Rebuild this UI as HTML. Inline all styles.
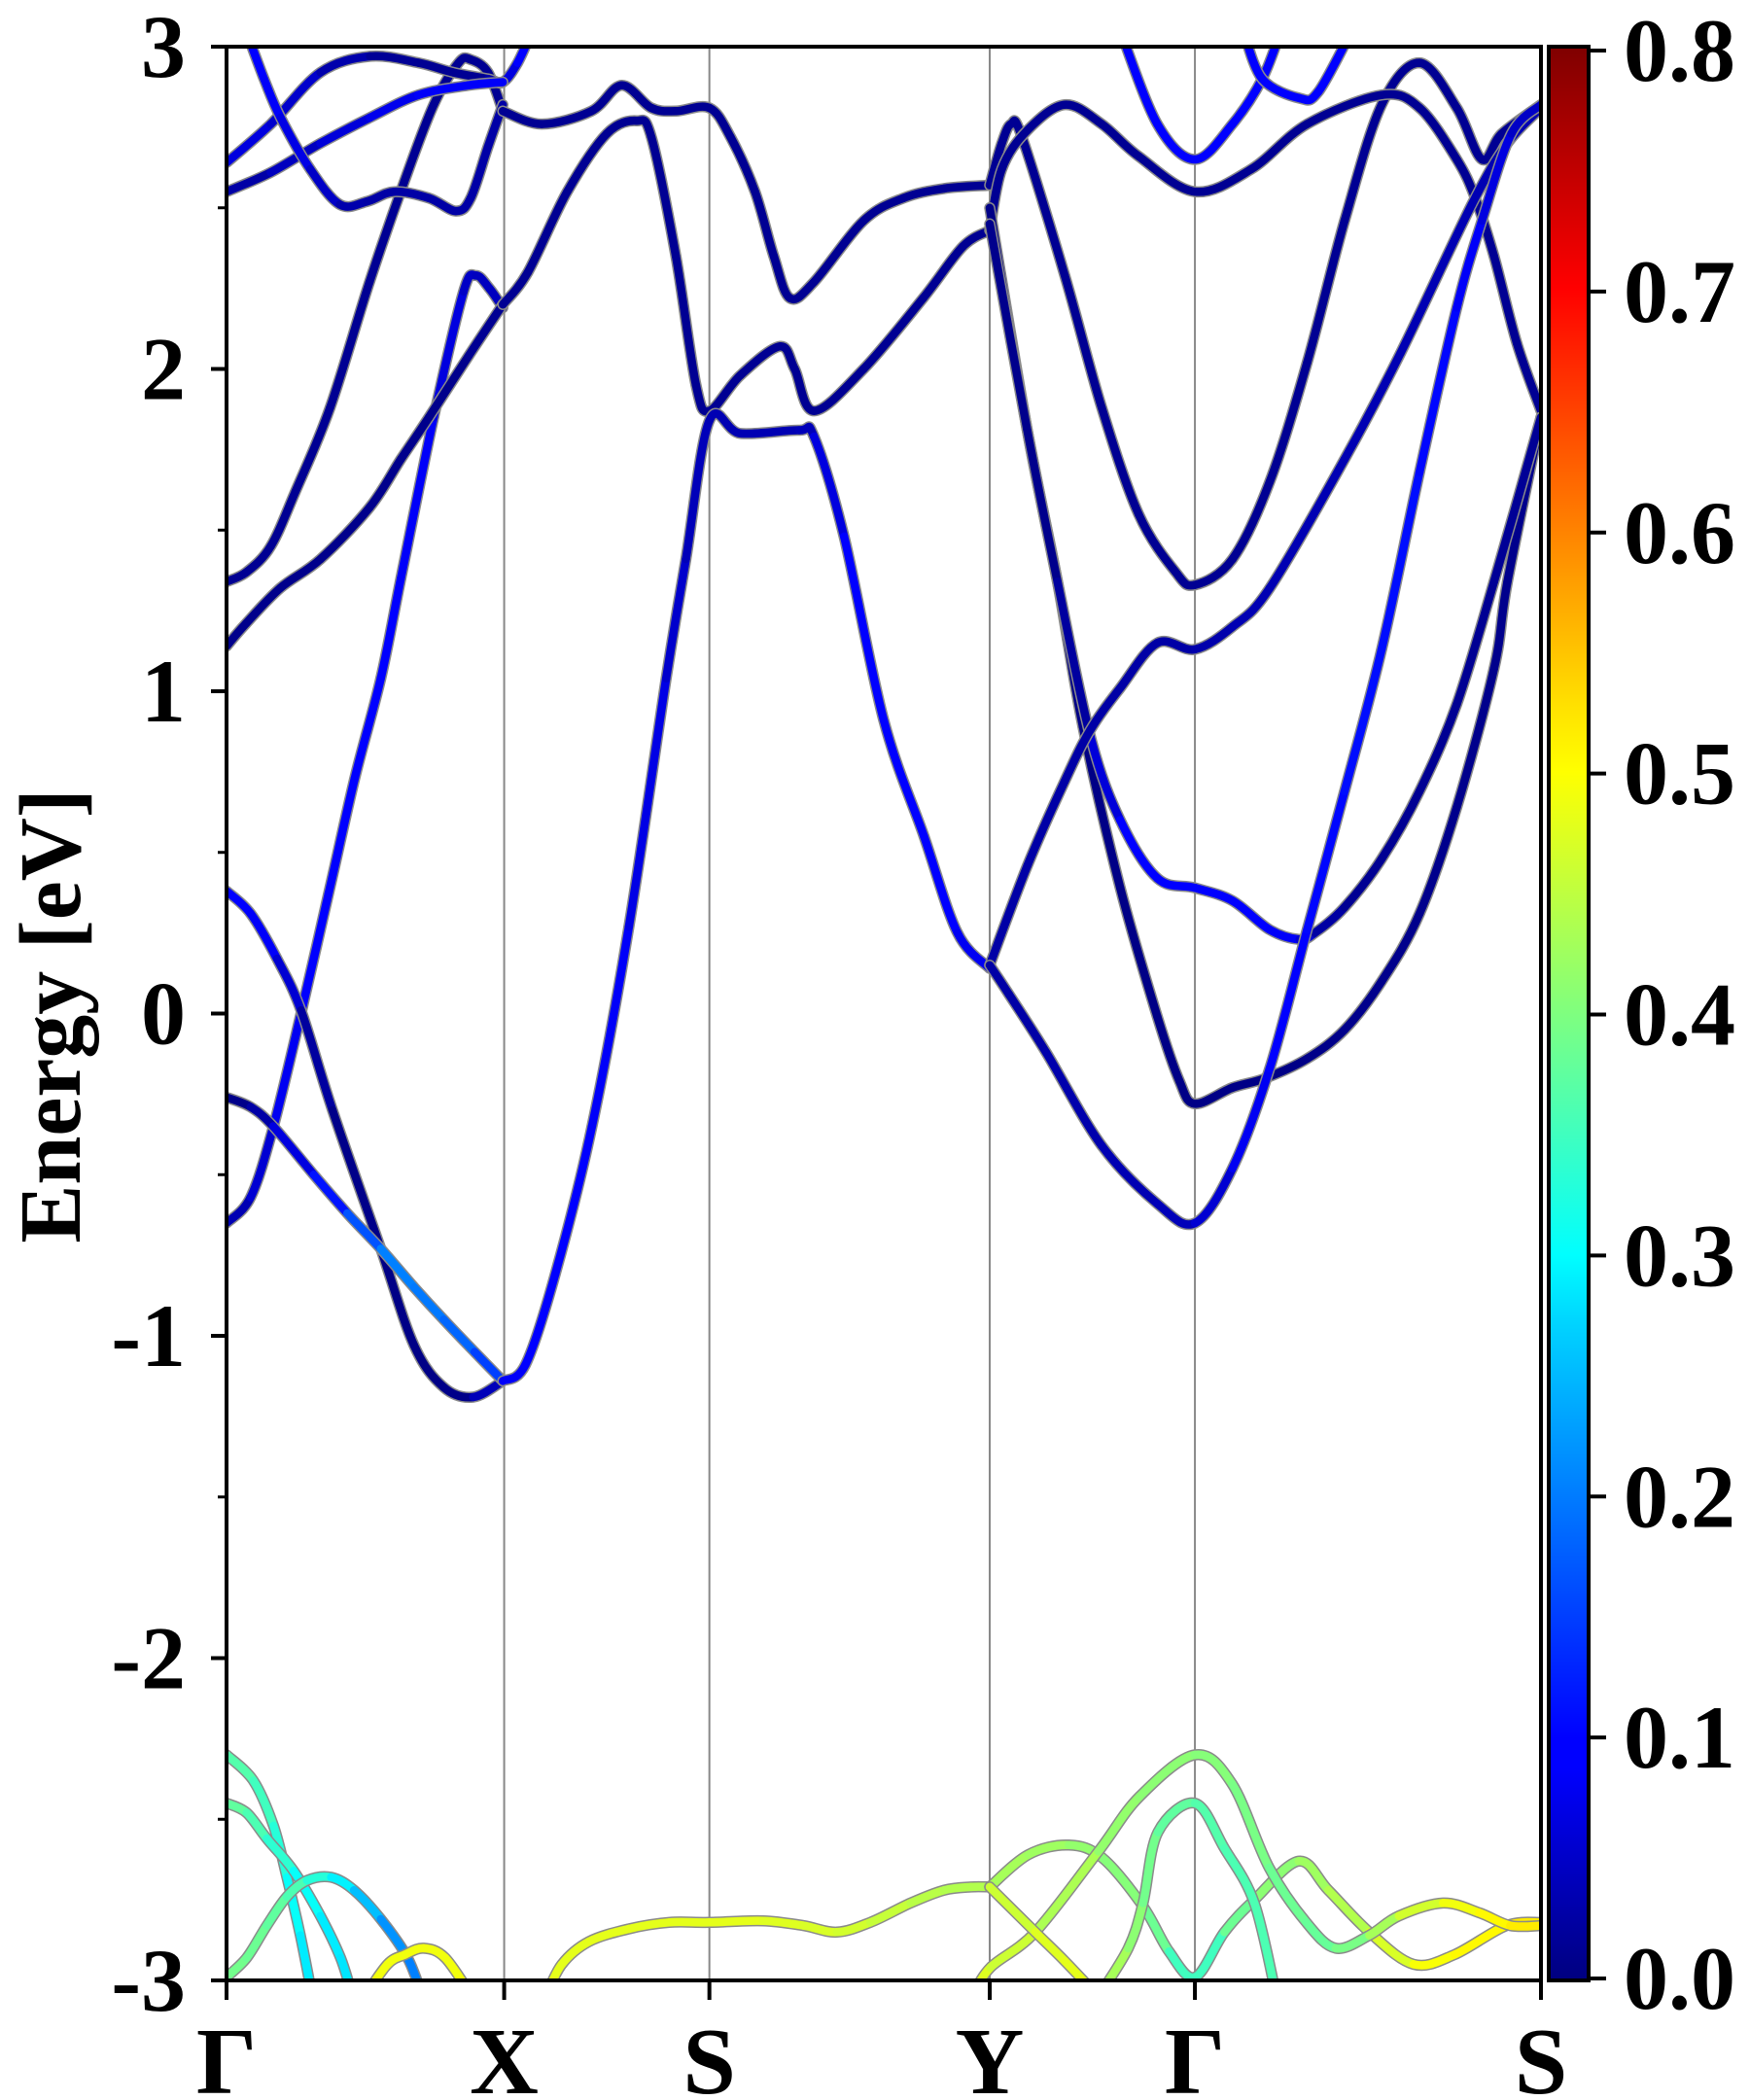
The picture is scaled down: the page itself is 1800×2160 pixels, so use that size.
<!DOCTYPE html>
<html><head><meta charset="utf-8"><style>
html,body{margin:0;padding:0;background:#fff;}
svg{display:block;}
text{font-family:"Liberation Serif","DejaVu Serif",serif;font-weight:bold;fill:#000;}
</style></head><body>
<svg id="chart" xmlns="http://www.w3.org/2000/svg" width="1800" height="2160" viewBox="0 0 1800 2160">
<defs>
<clipPath id="plotclip"><rect x="233" y="48" width="1352" height="1989"/></clipPath>
<linearGradient id="jetgrad" x1="0" y1="1" x2="0" y2="0">
<stop offset="0" stop-color="#00007f"/><stop offset="0.11" stop-color="#0000ff"/><stop offset="0.125" stop-color="#0000ff"/>
<stop offset="0.34" stop-color="#00d4ff"/><stop offset="0.375" stop-color="#00ffff"/><stop offset="0.5" stop-color="#7fff7f"/>
<stop offset="0.625" stop-color="#ffff00"/><stop offset="0.66" stop-color="#ffe000"/><stop offset="0.875" stop-color="#ff0000"/><stop offset="1" stop-color="#7f0000"/>
</linearGradient>
</defs>
<g id="grid"></g>
<g id="bands" clip-path="url(#plotclip)"></g>
<rect x="233" y="48" width="1352" height="1989" fill="none" stroke="#000" stroke-width="4"/>
<g id="axes"></g>
<text x="82" y="1045" font-size="90" text-anchor="middle" transform="rotate(-90 82 1045)">Energy [eV]</text>
<rect x="1593" y="48" width="41" height="1989" fill="url(#jetgrad)" stroke="#000" stroke-width="4"/>
<g id="cbaxis"></g>
</svg>
<script>
// k-path ticks (k-distance units) and labels
const kTicks = [0, 207, 360, 569, 722, 980];
const kLabels = ["Γ", "X", "S", "Y", "Γ", "S"];
const eTicks = [-3, -2, -1, 0, 1, 2, 3];
const eMinor = [-2.5, -1.5, -0.5, 0.5, 1.5, 2.5];
const cbTicks = [0, 0.1, 0.2, 0.3, 0.4, 0.5, 0.6, 0.7, 0.8];
const cbLabels = ["0.0","0.1","0.2","0.3","0.4","0.5","0.6","0.7","0.8"];

// bands: k = k-distance, e = energy (eV), w = projected weight
const bandK = [
 [0,18,35,55.5,76,95.6,115,130,154.5,176.7,185.9,196,206],
 [0,18,37.6,55.5,79,115,139.8,162,184,206],
 [0,18,34.8,65,90,115,140,162,185,206],
 [0,14.5,40,70,106.6,130,150.9,180.4,206],
 [0,15,33,51.4,77.2,106.6,132.4,154.5,173,182,195,206],
 [0,33,70,107,143,169,195,206,217,228],
 [0,33,70,107,143,180,206],
 [14.5,28,40.3,62.4,84.5,105,125,150.9,171,182,195,206],
 [206,235,272,294.6,316.7,335,360,375.7,394,408,420,438,475,504.6,535,569],
 [206,224.6,254,283.5,305.6,316.7,335,350,360,383,412.5,423.6,438,475,519.4,549,569],
 [206,222.8,245,272.5,300,327.8,342.5,360,383,427,438,460.4,490,520,545,569],
 [569,578,585,593,625,652.5,680,707.5,722,750,777.8,805.7,833.6,861.2,889.5,917.2,936,950.7,980],
 [569,578,597,625,652.5,680,722,764,805.7,861.2,889.5,917.2,931,945,962,980],
 [569,597,619.5,638.5,666.3,694,710.5,722,750,775,805.7,833.6,861.2,889.5,917.2,945,955,980],
 [569,597,619.5,644,666.3,694,722,750,777.8,800,811.3,833.6,861.2,889.5,917.2,945,980],
 [569,597.2,624.8,644,666.3,694,722,750,777.8,833.6,875.4,928.4,955,980],
 [569,583.3,611,652.5,694,722,750,777.8,805.7,833.6,861.2,889.5,917.2,936,958,980],
 [666.3,694,722,750,772.2,786.2],
 [758,772.2,800,814,839],
 [0,20,35,45,55,64],
 [0,15,30,50,70,85,94],
 [0,15,30,45,60,78,95,115,135,146],
 [103,120,133,147,163,183],
 [238,250,270,300,330,360,400,430,455,480,510,535,555,569],
 [569,597.7,628,653,683.3,702.7,722,744,766.3,799.4,821.5,852,885,915.5,954.2,980],
 [556,569.5,603,650,680.6,722,749.7,777.3,805,827,852,874,907,934,957,980],
 [650,672.3,683.3,694.4,722,744,766.3,782.8],
 [569,603,625,650]
];
const bandE = [
 [-0.65,-0.57,-0.35,0.0,0.37,0.73,1.04,1.35,1.85,2.24,2.29,2.25,2.19],
 [0.38,0.31,0.17,0.01,-0.30,-0.73,-1.03,-1.16,-1.19,-1.14],
 [-0.26,-0.29,-0.35,-0.50,-0.62,-0.73,-0.85,-0.95,-1.05,-1.14],
 [1.14,1.21,1.32,1.41,1.57,1.72,1.85,2.04,2.20],
 [1.34,1.37,1.45,1.62,1.88,2.27,2.58,2.82,2.95,2.96,2.92,2.80],
 [2.64,2.76,2.92,2.97,2.95,2.92,2.90,2.89,2.95,3.05],
 [2.55,2.61,2.70,2.78,2.85,2.88,2.89],
 [3.05,2.90,2.78,2.62,2.51,2.52,2.55,2.53,2.49,2.53,2.69,2.82],
 [2.80,2.76,2.80,2.88,2.81,2.80,2.81,2.72,2.55,2.35,2.22,2.27,2.46,2.53,2.56,2.57],
 [2.20,2.30,2.55,2.73,2.77,2.72,2.35,1.95,1.87,1.98,2.07,2.00,1.87,2.00,2.22,2.38,2.43],
 [-1.14,-1.09,-0.81,-0.35,0.27,1.04,1.41,1.84,1.80,1.81,1.79,1.48,0.91,0.55,0.25,0.14],
 [2.57,2.70,2.76,2.72,2.29,1.88,1.55,1.37,1.33,1.41,1.65,2.02,2.46,2.82,2.95,2.81,2.65,2.73,2.82],
 [2.43,2.62,2.74,2.82,2.76,2.66,2.55,2.62,2.76,2.85,2.81,2.65,2.53,2.35,2.08,1.87],
 [2.50,1.81,1.34,0.89,0.39,-0.01,-0.21,-0.28,-0.23,-0.20,-0.14,-0.05,0.10,0.31,0.64,1.07,1.34,1.85],
 [2.45,1.81,1.34,0.86,0.60,0.42,0.39,0.35,0.26,0.23,0.25,0.33,0.48,0.69,0.96,1.34,1.85],
 [0.15,0.46,0.72,0.88,1.01,1.15,1.13,1.20,1.32,1.72,2.05,2.51,2.70,2.81],
 [0.15,0.06,-0.12,-0.41,-0.59,-0.65,-0.48,-0.17,0.26,0.69,1.13,1.68,2.19,2.46,2.73,2.82],
 [3.05,2.76,2.65,2.76,2.90,3.05],
 [3.05,2.90,2.84,2.86,3.05],
 [-2.30,-2.38,-2.52,-2.68,-2.86,-3.05],
 [-2.45,-2.48,-2.56,-2.66,-2.80,-2.93,-3.05],
 [-2.99,-2.93,-2.83,-2.74,-2.69,-2.68,-2.72,-2.81,-2.93,-3.05],
 [-3.05,-2.95,-2.92,-2.90,-2.93,-3.05],
 [-3.05,-2.95,-2.88,-2.84,-2.82,-2.82,-2.815,-2.83,-2.85,-2.82,-2.76,-2.72,-2.71,-2.71],
 [-2.71,-2.61,-2.58,-2.62,-2.77,-2.91,-2.99,-2.85,-2.75,-2.63,-2.72,-2.85,-2.95,-2.92,-2.83,-2.82],
 [-3.05,-2.96,-2.85,-2.60,-2.43,-2.30,-2.39,-2.65,-2.82,-2.90,-2.86,-2.80,-2.76,-2.79,-2.83,-2.83],
 [-3.05,-2.90,-2.76,-2.54,-2.45,-2.59,-2.76,-3.05],
 [-2.71,-2.85,-2.94,-3.05]
];
const bandW = [
 [0.03,0.05,0.08,0.1,0.1,0.1,0.1,0.1,0.09,0.06,0.05,0.05,0.05],
 [0.1,0.1,0.09,0.04,0.01,0.005,0.005,0.005,0.01,0.08],
 [0.005,0.01,0.05,0.1,0.13,0.2,0.2,0.19,0.17,0.13],
 [0.01,0.01,0.01,0.01,0.01,0.01,0.01,0.01,0.02],
 [0.015,0.015,0.015,0.015,0.015,0.015,0.015,0.015,0.015,0.015,0.015,0.015],
 [0.08,0.07,0.05,0.02,0.015,0.015,0.015,0.05,0.1,0.1],
 [0.02,0.04,0.06,0.08,0.09,0.1,0.09],
 [0.1,0.1,0.09,0.07,0.04,0.03,0.03,0.03,0.03,0.03,0.03,0.03],
 [0.015,0.015,0.015,0.015,0.015,0.015,0.015,0.015,0.015,0.015,0.015,0.015,0.015,0.015,0.015,0.015],
 [0.015,0.015,0.015,0.015,0.015,0.015,0.015,0.015,0.015,0.015,0.015,0.015,0.015,0.015,0.015,0.015,0.015],
 [0.09,0.1,0.1,0.1,0.09,0.07,0.05,0.04,0.04,0.04,0.05,0.1,0.1,0.1,0.1,0.08],
 [0.015,0.015,0.015,0.015,0.015,0.015,0.015,0.015,0.015,0.015,0.015,0.015,0.015,0.015,0.015,0.015,0.015,0.015,0.015],
 [0.015,0.015,0.015,0.015,0.015,0.015,0.015,0.015,0.015,0.015,0.015,0.015,0.015,0.015,0.015,0.015],
 [0.005,0.005,0.005,0.005,0.005,0.005,0.005,0.005,0.005,0.005,0.005,0.01,0.01,0.01,0.01,0.01,0.01,0.01],
 [0.01,0.01,0.01,0.04,0.1,0.1,0.1,0.1,0.1,0.09,0.04,0.015,0.015,0.015,0.015,0.015,0.02],
 [0.03,0.03,0.03,0.03,0.03,0.03,0.03,0.04,0.04,0.04,0.04,0.04,0.04,0.04],
 [0.03,0.03,0.03,0.04,0.04,0.05,0.08,0.1,0.1,0.11,0.11,0.11,0.1,0.09,0.06,0.05],
 [0.1,0.1,0.1,0.1,0.1,0.1],
 [0.1,0.1,0.1,0.1,0.1],
 [0.37,0.36,0.34,0.32,0.29,0.28],
 [0.38,0.37,0.35,0.32,0.29,0.28,0.28],
 [0.39,0.39,0.38,0.37,0.35,0.31,0.27,0.23,0.2,0.2],
 [0.49,0.49,0.49,0.49,0.49,0.49],
 [0.48,0.48,0.48,0.48,0.48,0.48,0.48,0.47,0.47,0.46,0.45,0.44,0.44,0.44],
 [0.43,0.43,0.42,0.41,0.40,0.37,0.33,0.37,0.40,0.42,0.43,0.45,0.49,0.5,0.51,0.52],
 [0.48,0.47,0.45,0.42,0.41,0.41,0.40,0.39,0.38,0.38,0.41,0.45,0.48,0.5,0.51,0.52],
 [0.44,0.42,0.40,0.38,0.37,0.36,0.36,0.36],
 [0.45,0.47,0.48,0.48]
];

const SVGNS = "http://www.w3.org/2000/svg";
const X0 = 233, X1 = 1585, Y0 = 48, Y1 = 2037;
const kMax = 980, eMin = -3, eMax = 3, vMax = 0.8;
function xs(k){ return X0 + k / kMax * (X1 - X0); }
function ys(e){ return Y0 + (eMax - e) / (eMax - eMin) * (Y1 - Y0); }
function cbY(v){ return 2035 - v / vMax * (2035 - 52); }
function clamp(a){ return Math.max(0, Math.min(1, a)); }
function jet(v){
  const t = clamp(v / vMax);
  const r = clamp(1.5 - Math.abs(4*t - 3)), g = clamp(1.5 - Math.abs(4*t - 2)), b = clamp(1.5 - Math.abs(4*t - 1));
  return "rgb(" + Math.round(r*255) + "," + Math.round(g*255) + "," + Math.round(b*255) + ")";
}
function mk(tag, attrs, parent){
  const el = document.createElementNS(SVGNS, tag);
  for (const a in attrs) el.setAttribute(a, attrs[a]);
  parent.appendChild(el);
  return el;
}
function segPath(P, i){
  const p0 = P[Math.max(i-1,0)], p1 = P[i], p2 = P[i+1], p3 = P[Math.min(i+2,P.length-1)];
  const c1x = p1[0] + (p2[0]-p0[0])/6, c1y = p1[1] + (p2[1]-p0[1])/6;
  const c2x = p2[0] - (p3[0]-p1[0])/6, c2y = p2[1] - (p3[1]-p1[1])/6;
  return "C" + c1x.toFixed(1) + "," + c1y.toFixed(1) + " " + c2x.toFixed(1) + "," + c2y.toFixed(1) + " " + p2[0].toFixed(1) + "," + p2[1].toFixed(1);
}

const grid = document.getElementById("grid");
for (let i = 1; i < kTicks.length - 1; i++){
  const ln = mk("line", {x1: xs(kTicks[i]), x2: xs(kTicks[i]), y1: Y0, y2: Y1, stroke: "#888", "stroke-width": 2}, grid);
  
  
}

const bandsG = document.getElementById("bands");
for (let b = 0; b < bandK.length; b++){
  const P = bandK[b].map((k, i) => [xs(k), ys(bandE[b][i])]);
  const g = mk("g", {}, bandsG);
  
  
  let d = "M" + P[0][0].toFixed(1) + "," + P[0][1].toFixed(1);
  for (let i = 0; i < P.length - 1; i++) d += segPath(P, i);
  const outline = mk("path", {d: d, fill: "none", stroke: "#8a8a8a", "stroke-width": 11.5, "stroke-linecap": "round", "stroke-linejoin": "round"}, g);
  
  
  for (let i = 0; i < P.length - 1; i++){
    const w = (bandW[b][i] + bandW[b][i+1]) / 2;
    const sd = "M" + P[i][0].toFixed(1) + "," + P[i][1].toFixed(1) + segPath(P, i);
    const seg = mk("path", {d: sd, fill: "none", stroke: jet(w), "stroke-width": 8.5, "stroke-linecap": "round"}, g);
    
    
  }
}

const axes = document.getElementById("axes");
for (let i = 0; i < eTicks.length; i++){
  const y = ys(eTicks[i]);
  const t = mk("line", {x1: X0 - 16, x2: X0, y1: y, y2: y, stroke: "#000", "stroke-width": 4}, axes);
  
  
  const lb = mk("text", {x: 191, y: y + 31, "font-size": 92, "text-anchor": "end"}, axes);
  lb.textContent = String(eTicks[i]);
  
  
}
for (let i = 0; i < eMinor.length; i++){
  const y = ys(eMinor[i]);
  const t = mk("line", {x1: X0 - 9, x2: X0, y1: y, y2: y, stroke: "#000", "stroke-width": 3}, axes);
  
  
}
for (let i = 0; i < kTicks.length; i++){
  const x = xs(kTicks[i]);
  const t = mk("line", {x1: x, x2: x, y1: Y1, y2: Y1 + 20, stroke: "#000", "stroke-width": 4}, axes);
  
  
  const lb = mk("text", {x: x, y: 2153, "font-size": 98, "text-anchor": "middle"}, axes);
  lb.textContent = kLabels[i];
  
  
}

const cb = document.getElementById("cbaxis");
for (let i = 0; i < cbTicks.length; i++){
  const y = cbY(cbTicks[i]);
  const t = mk("line", {x1: 1635, x2: 1652, y1: y, y2: y, stroke: "#000", "stroke-width": 4}, cb);
  
  
  const lb = mk("text", {x: 1670, y: y + 31, "font-size": 92}, cb);
  lb.textContent = cbLabels[i];
  
  
}
</script>
</body></html>
